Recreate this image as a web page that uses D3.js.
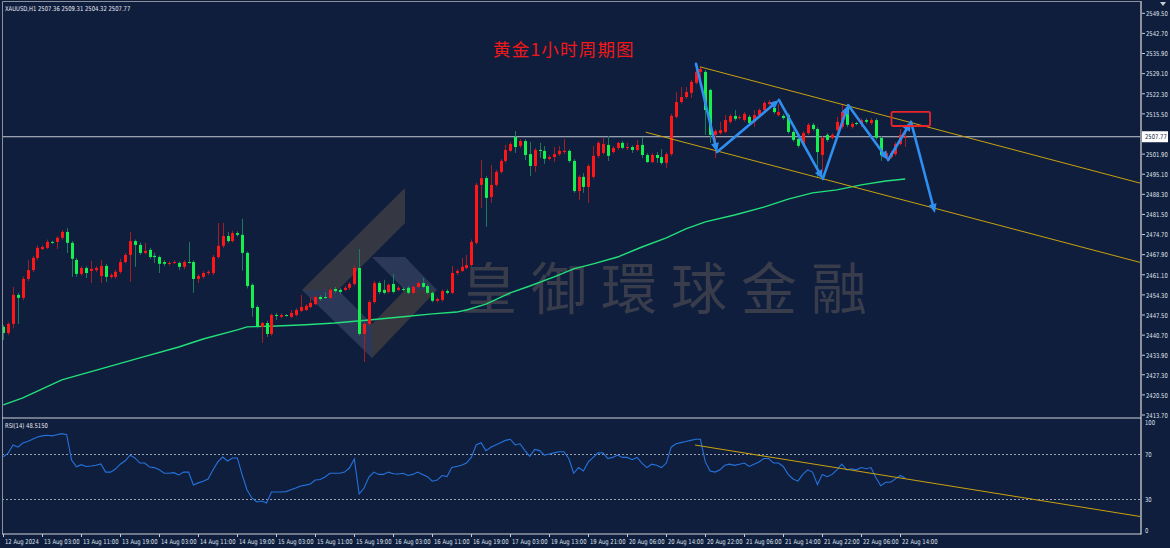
<!DOCTYPE html>
<html><head><meta charset="utf-8">
<script src="https://cdn.jsdelivr.net/npm/d3@7"></script>
<style>
html,body{margin:0;padding:0;background:#101e3e;}
svg{display:block;}
</style></head><body>
<svg id="c" width="1170" height="548"></svg>
<script>
// ---------------- DATA ----------------
const symbol = "XAUUSD,H1";
const lastOHLC = [2507.36, 2509.31, 2504.32, 2507.77];
const chartTitle = "黄金1小时周期图";
const watermarkText = "皇御環球金融";
const rsiLabel = "RSI(14) 48.5150";

const open = [2443.5,2441.4,2444.5,2454.3,2453.3,2459.7,2462.7,2466.8,2469.8,2470.2,2472.2,2472.2,2473.6,2475.6,2471.9,2466.1,2461.4,2463.4,2462.4,2462.7,
2460.7,2464.1,2460.4,2460.4,2462.1,2465.4,2467.8,2472.5,2471.2,2468.5,2469.5,2467.5,2467.1,2465.4,2464.8,2465.1,2465.1,2463.8,2465.4,2465.4,
2459.7,2460.4,2461.7,2461.7,2467.1,2470.9,2474.2,2472.5,2475.2,2474.6,2468.5,2457.7,2450.2,2443.5,2444.8,2441.1,2447.5,2446.9,2447.5,2446.9,
2447.5,2448.9,2449.2,2450.2,2451.2,2453.6,2453.6,2453.3,2456.3,2456.0,2456.0,2456.7,2458.0,2463.4,2441.1,2444.5,2451.9,2458.3,2456.0,2455.3,
2458.0,2456.0,2456.3,2456.7,2455.0,2457.0,2458.3,2457.3,2455.0,2452.3,2452.6,2455.6,2455.0,2461.7,2462.4,2463.4,2464.4,2471.9,2491.5,2493.8,
2487.4,2491.5,2495.9,2499.6,2503.0,2507.7,2504.7,2506.3,2501.9,2497.9,2503.3,2503.0,2500.3,2500.9,2501.9,2502.6,2503.0,2499.6,2489.4,2494.2,
2490.8,2494.2,2501.3,2502.3,2505.0,2502.6,2504.0,2505.7,2504.0,2504.3,2503.3,2505.0,2501.6,2499.2,2501.6,2500.9,2498.9,2501.9,2514.5,2519.5,
2521.2,2522.6,2526.0,2529.7,2529.7,2523.6,2508.4,2509.0,2509.4,2512.8,2514.8,2514.1,2513.4,2514.5,2512.8,2515.1,2516.8,2518.8,2517.5,2515.1,
2514.8,2515.1,2509.4,2507.0,2505.0,2509.0,2511.8,2510.4,2501.6,2508.4,2507.4,2510.0,2511.1,2517.5,2511.1,2512.4,2512.1,2513.4,2512.4,2513.4,
2507.4,2500.6,2500.9,2501.9,2505.3,2507.36];
const high = [2444.1,2445.0,2457.0,2455.0,2460.5,2466.1,2467.5,2471.0,2471.0,2473.0,2472.6,2474.2,2476.2,2476.9,2472.5,2466.8,2464.0,2464.0,2465.8,2464.0,
2466.1,2464.8,2461.6,2462.8,2466.5,2468.5,2475.6,2473.0,2472.0,2471.9,2470.2,2468.5,2467.6,2466.0,2465.6,2466.0,2465.6,2466.0,2472.2,2466.0,
2461.3,2462.3,2462.6,2467.8,2478.6,2478.6,2475.6,2476.0,2475.8,2480.0,2469.0,2458.2,2450.8,2445.2,2445.6,2448.0,2448.2,2448.0,2447.8,2449.2,
2449.8,2454.3,2451.2,2453.6,2454.2,2454.2,2455.3,2456.6,2457.0,2456.6,2457.3,2458.6,2464.2,2469.8,2445.0,2452.5,2459.0,2458.9,2459.4,2458.2,
2461.4,2457.3,2456.9,2457.3,2457.7,2459.0,2460.0,2457.8,2455.5,2453.5,2456.2,2456.2,2464.1,2463.0,2466.8,2467.8,2473.0,2492.2,2499.9,2494.5,
2498.2,2496.5,2500.2,2505.0,2506.0,2509.7,2507.0,2507.0,2506.0,2504.0,2505.7,2504.6,2501.5,2504.3,2504.6,2507.0,2503.5,2500.2,2494.8,2495.5,
2498.5,2504.6,2506.3,2507.4,2508.0,2504.6,2506.0,2506.3,2505.7,2504.8,2506.7,2507.7,2502.2,2502.2,2502.6,2503.6,2502.5,2515.5,2522.9,2524.6,
2524.6,2527.0,2532.4,2531.4,2530.3,2524.0,2510.3,2512.8,2515.1,2515.4,2516.8,2515.0,2516.1,2515.1,2516.8,2517.4,2519.8,2520.2,2518.0,2518.8,
2515.4,2515.7,2510.0,2507.6,2509.6,2512.4,2512.4,2511.0,2508.0,2509.0,2509.0,2514.5,2518.5,2518.5,2512.8,2512.8,2514.0,2514.0,2514.1,2514.0,
2508.0,2503.0,2503.0,2506.0,2510.4,2509.31];
const low = [2439.1,2440.7,2443.0,2444.5,2452.5,2459.0,2462.0,2466.0,2469.5,2469.8,2471.6,2469.8,2473.0,2468.5,2460.4,2460.4,2460.8,2460.0,2458.3,2462.0,
2458.3,2458.7,2459.8,2459.8,2461.5,2465.0,2458.7,2463.8,2467.8,2468.0,2466.5,2465.1,2461.7,2464.0,2464.3,2464.8,2462.7,2463.0,2465.0,2455.0,
2458.3,2459.8,2461.0,2461.0,2466.5,2470.2,2471.9,2472.0,2474.0,2462.5,2456.5,2446.9,2443.0,2438.1,2440.1,2440.5,2445.8,2446.4,2447.0,2446.5,
2447.0,2448.5,2448.8,2449.8,2450.8,2452.3,2452.9,2452.9,2455.0,2454.6,2455.6,2456.0,2457.5,2440.5,2431.6,2444.0,2451.3,2454.6,2454.5,2454.8,
2454.8,2455.5,2455.5,2454.5,2454.5,2456.5,2456.5,2454.5,2451.8,2451.8,2452.0,2454.5,2454.5,2461.0,2462.0,2463.0,2463.8,2471.3,2483.7,2477.3,
2485.4,2491.0,2495.3,2499.0,2502.5,2502.3,2504.0,2499.9,2494.5,2495.9,2500.6,2498.6,2499.8,2499.2,2501.3,2502.0,2499.0,2488.8,2486.4,2488.8,
2485.4,2493.6,2500.6,2501.8,2499.6,2502.0,2503.3,2503.5,2503.3,2502.3,2502.8,2500.6,2498.9,2498.9,2498.9,2498.3,2497.2,2501.3,2514.0,2519.0,
2520.6,2520.9,2525.5,2525.3,2508.4,2505.7,2500.6,2508.5,2509.0,2512.2,2513.2,2513.6,2512.8,2511.8,2511.1,2514.6,2516.2,2518.3,2515.5,2514.6,
2513.5,2508.8,2506.1,2504.1,2504.4,2508.4,2509.8,2493.8,2495.9,2506.0,2506.9,2509.5,2510.5,2511.0,2510.5,2511.6,2511.1,2512.2,2511.8,2506.8,
2499.6,2500.0,2500.3,2501.3,2504.8,2504.32];
const close = [2441.4,2444.5,2454.3,2453.3,2459.7,2462.7,2466.8,2470.2,2470.5,2472.2,2472.0,2473.6,2475.6,2471.9,2466.5,2461.4,2463.4,2461.7,2463.1,2463.4,
2464.1,2460.4,2461.0,2462.1,2465.4,2467.8,2472.5,2471.2,2468.5,2469.2,2467.1,2467.1,2464.8,2464.8,2465.1,2465.4,2463.8,2465.4,2465.1,2459.7,
2460.7,2461.7,2462.1,2467.1,2470.9,2474.2,2472.5,2475.2,2474.6,2468.5,2457.3,2449.9,2443.5,2444.8,2441.1,2447.5,2447.2,2447.5,2447.3,2448.2,
2449.2,2450.2,2450.6,2451.6,2453.6,2452.9,2453.3,2456.0,2455.6,2455.3,2456.7,2458.0,2463.4,2441.1,2444.5,2451.9,2458.3,2455.3,2455.0,2457.7,
2455.3,2456.7,2456.0,2455.0,2457.0,2458.3,2457.0,2455.0,2452.3,2452.9,2455.6,2455.0,2461.7,2462.4,2463.8,2464.4,2472.2,2491.5,2493.8,2487.1,
2491.5,2495.9,2499.6,2503.3,2505.3,2504.3,2506.3,2501.6,2497.9,2503.3,2503.0,2500.3,2500.9,2501.9,2503.0,2503.0,2499.6,2489.4,2494.2,2490.8,
2497.9,2501.3,2505.7,2505.3,2501.3,2504.0,2505.7,2504.0,2504.3,2503.3,2505.0,2501.6,2499.2,2501.6,2500.6,2498.9,2501.9,2514.8,2519.5,2521.2,
2522.9,2526.3,2529.7,2530.7,2516.8,2508.4,2509.7,2510.0,2513.4,2514.8,2513.8,2514.4,2515.5,2512.4,2515.1,2516.8,2519.2,2519.5,2516.1,2516.1,
2514.1,2509.4,2506.7,2504.7,2509.0,2511.8,2510.4,2502.6,2507.4,2506.7,2508.4,2512.8,2516.1,2511.8,2512.1,2512.1,2513.4,2512.8,2513.4,2507.4,
2501.6,2502.3,2502.3,2505.3,2508.4,2507.77];

// moving average, read at sampled bars
const maBar = [0,4,8,12,20,28,36,41,48,50,56,62,68,75,82,88,93,95,99,104,108,113,117,121,126,131,136,140,144,150,156,161,166,171,176,181,185];
const maVal = [2417.1,2419.5,2422.5,2425.6,2429.3,2433.0,2436.7,2439.4,2442.5,2443.5,2443.8,2444.2,2444.8,2445.8,2446.9,2447.9,2448.5,2449.2,2451.2,2455.0,2457.3,2460.4,2463.1,2464.8,2467.1,2470.5,2473.6,2476.6,2479.0,2481.3,2484.0,2486.7,2488.8,2489.8,2491.5,2492.8,2493.5];

// RSI(14), one value per bar
const rsi = [67.6,70.8,78,76,79.7,81,83,85,86,86.5,86,87,88,87,64.7,58.7,60.6,59,59.4,60,
61.2,54,54,56.7,61,64,69,66.5,62,62,58.5,58,56,53,53,53.5,51.5,54,54,42.6,
44.5,46,47.9,55.9,63,67.3,63.8,66.5,66.5,51.5,38.2,31.2,27.6,28.5,26.7,36.4,36.4,36.5,36.8,38.5,
40,41.8,42.5,43.5,47,47.5,49.7,53,53,53,54,57.6,65.6,34.7,40,49.7,54,52,52,54,
52.5,52.4,53,51,52,54,52,50,46,47,51,50,58,59,60,62,67,78,80,73,
76,78,80,82,83,78,79,73,68,74,73,69,70,71,72,72,66,53,58,55,
63,67,71,71,66,67,69,67,67,65,67,62,58,61,60,58,62,76,79,80,
81,82,83,83,63,55,54,56,60,61,60,61,62,59,61,63,66,66,62,62,
59,52,48,46,52,56,54,43,52,50,52,56,61,56,57,56,58,57,58,49,
42,45,45,48,51,48.5];

const priceTickLabels = ["2549.50","2542.70","2535.90","2529.10","2522.30","2515.50","2508.70","2501.90","2495.10","2488.30","2481.50","2474.70","2467.90","2461.10","2454.30","2447.50","2440.70","2433.90","2427.30","2420.50","2413.70"];
const rsiTickLabels = ["100","70","30","0"];
const timeTickLabels = ["12 Aug 2024","13 Aug 03:00","13 Aug 11:00","13 Aug 19:00","14 Aug 03:00","14 Aug 11:00","14 Aug 19:00","15 Aug 03:00","15 Aug 11:00","15 Aug 19:00","16 Aug 03:00","16 Aug 11:00","16 Aug 19:00","17 Aug 03:00","19 Aug 13:00","19 Aug 21:00","20 Aug 06:00","20 Aug 14:00","20 Aug 22:00","21 Aug 06:00","21 Aug 14:00","21 Aug 22:00","22 Aug 06:00","22 Aug 14:00"];
const timeTickEvery = 8;

// drawings (bar index, price)
const upperChannel = [[142.9,2531.4],[233.4,2492.0]];
const lowerChannel = [[131.8,2509.3],[233.4,2465.2]];
const zigzag = [[142.1,2532.4],[146.4,2502.6],[159.1,2520.2],[168.1,2493.5],[173.3,2518.5],[181.5,2499.9],[186.2,2512.8],[191.1,2482.0]];
const targetBox = [[182.2,2516.2],[190.1,2511.4]];
const rsiTrend = [[141.9,77.9],[233.4,14.7]];

// ---------------- LAYOUT ----------------
const svg = d3.select("#c");
const BG = "#101e3e";
const plotL = 2, plotR = 1141, mainT = 2, mainB = 418, rsiB = 534;
const step = 4.875, x0 = 3.3;
const x = d3.scaleLinear().domain([0, 232]).range([x0, x0 + 232 * step]);
const y = d3.scaleLinear().domain([2413.7, 2549.5]).range([415, 13.3]);
const yr = d3.scaleLinear().domain([0, 100]).range([533.3, 420]);

svg.append("rect").attr("width", 1170).attr("height", 548).attr("fill", BG);

const defs = svg.append("defs");
defs.append("clipPath").attr("id", "cm").append("rect")
  .attr("x", plotL).attr("y", mainT).attr("width", plotR - plotL).attr("height", mainB - mainT);
defs.append("clipPath").attr("id", "cr").append("rect")
  .attr("x", plotL).attr("y", 419).attr("width", plotR - plotL).attr("height", rsiB - 419);
defs.append("clipPath").attr("id", "cl").append("rect")
  .attr("x", plotR + 1).attr("y", 0).attr("width", 40).attr("height", 131.5);

function small(g, px, py, str, fill, anchor) {
  return g.append("text")
    .attr("transform", `translate(${px},${py}) scale(0.8,1)`)
    .attr("font-family", "'DejaVu Sans','Liberation Sans',sans-serif")
    .attr("font-size", 6.6).attr("fill", fill || "#dfe3ea")
    .attr("text-anchor", anchor || "start")
    .attr("dominant-baseline", "central")
    .text(str);
}

const main = svg.append("g").attr("clip-path", "url(#cm)");

// watermark logo
const wm = main.append("g");
wm.append("path").attr("d", "M302,290 L405,188 L405,223 L338,290 Z").attr("fill", "#3a3b42").attr("opacity", 0.9);
wm.append("path").attr("d", "M372,257 L405,257 L437,290 L405,290 Z").attr("fill", "#2c3858");
wm.append("path").attr("d", "M302,290 L338,290 L372,324 L372,358 Z").attr("fill", "#2c3858");
wm.append("path").attr("d", "M372,324 L405,290 L437,290 L372,358 Z").attr("fill", "#36373f");
wm.append("text").attr("x", 461).attr("y", 309)
  .attr("font-family", "'Noto Sans CJK TC','Noto Sans CJK SC',sans-serif")
  .attr("font-size", 56).attr("letter-spacing", 14)
  .attr("fill", "#393d4b").text(watermarkText);

// current price line
main.append("line").attr("x1", plotL).attr("x2", plotR)
  .attr("y1", y(lastOHLC[3])).attr("y2", y(lastOHLC[3]))
  .attr("stroke", "#c5c9d2").attr("stroke-width", 1);

// moving average
main.append("path")
  .attr("d", d3.line().x((d, i) => x(maBar[i])).y(d => y(d))(maVal))
  .attr("fill", "none").attr("stroke", "#22e07a").attr("stroke-width", 1.4);

// candles
const UP_BODY = "#ff1616", UP_WICK = "#a51c24", DN_BODY = "#14f04e", DN_WICK = "#1f7a5c";
const cg = main.append("g");
open.forEach((o, i) => {
  const c = close[i], up = c >= o;
  const cx = Math.round(x(i)) + 0.5;
  cg.append("line").attr("x1", cx).attr("x2", cx)
    .attr("y1", y(high[i])).attr("y2", y(low[i]))
    .attr("stroke", up ? UP_WICK : DN_WICK).attr("stroke-width", 1);
  const top = y(Math.max(o, c)), bot = y(Math.min(o, c));
  cg.append("rect").attr("x", cx - 1.5).attr("width", 3)
    .attr("y", top).attr("height", Math.max(1, bot - top))
    .attr("fill", up ? UP_BODY : DN_BODY);
});

// channel lines
[upperChannel, lowerChannel].forEach(l => {
  main.append("line")
    .attr("x1", x(l[0][0])).attr("y1", y(l[0][1]))
    .attr("x2", x(l[1][0])).attr("y2", y(l[1][1]))
    .attr("stroke", "#c9a20c").attr("stroke-width", 1);
});

// zigzag arrows
const AR = "#2e8ff0";
const ag = main.append("g");
for (let i = 0; i < zigzag.length - 1; i++) {
  const ax = x(zigzag[i][0]), ay = y(zigzag[i][1]);
  const bx = x(zigzag[i + 1][0]), by = y(zigzag[i + 1][1]);
  const dx = bx - ax, dy = by - ay, len = Math.hypot(dx, dy);
  const ux = dx / len, uy = dy / len;
  const hl = 9, hw = 4;
  ag.append("line").attr("x1", ax).attr("y1", ay)
    .attr("x2", bx - ux * hl * 0.8).attr("y2", by - uy * hl * 0.8)
    .attr("stroke", AR).attr("stroke-width", 2.6).attr("stroke-linecap", "round");
  const px = -uy, py = ux;
  ag.append("path").attr("d",
    `M${bx},${by} L${bx - ux * hl + px * hw},${by - uy * hl + py * hw} L${bx - ux * hl - px * hw},${by - uy * hl - py * hw} Z`)
    .attr("fill", AR);
}

// target box
main.append("rect")
  .attr("x", x(targetBox[0][0])).attr("y", y(targetBox[0][1]))
  .attr("width", x(targetBox[1][0]) - x(targetBox[0][0]))
  .attr("height", y(targetBox[1][1]) - y(targetBox[0][1]))
  .attr("rx", 1.5).attr("fill", "none").attr("stroke", "#e8262a").attr("stroke-width", 1.8);

// title
svg.append("text").attr("x", 493).attr("y", 56)
  .attr("font-family", "'Noto Sans CJK SC',sans-serif")
  .attr("font-size", 17.5).attr("letter-spacing", 1.2)
  .attr("fill", "#f01818").text(chartTitle);

// header
small(svg, 5, 8, `${symbol}  ${lastOHLC.map(v => v.toFixed(2)).join(" ")}`, "#e6e9ef");

// ---------- RSI panel ----------
const rg = svg.append("g").attr("clip-path", "url(#cr)");
[70, 30].forEach(v => {
  rg.append("line").attr("x1", plotL).attr("x2", plotR)
    .attr("y1", Math.round(yr(v)) + 0.5).attr("y2", Math.round(yr(v)) + 0.5)
    .attr("stroke", "#9aa1b2").attr("stroke-width", 1).attr("stroke-dasharray", "2,2");
});
rg.append("path")
  .attr("d", d3.line().x((d, i) => x(i)).y(d => yr(d))(rsi))
  .attr("fill", "none").attr("stroke", "#2473db").attr("stroke-width", 1.1);
rg.append("line")
  .attr("x1", x(rsiTrend[0][0])).attr("y1", yr(rsiTrend[0][1]))
  .attr("x2", x(rsiTrend[1][0])).attr("y2", yr(rsiTrend[1][1]))
  .attr("stroke", "#c9a20c").attr("stroke-width", 1);
small(svg, 5, 425, rsiLabel, "#e6e9ef");

// ---------- frame ----------
const fr = svg.append("g").attr("fill", "none");
fr.append("path").attr("d", `M${plotL + 0.5},${rsiB} L${plotL + 0.5},1.5 L${plotR},1.5`).attr("stroke", "#8c919c").attr("stroke-width", 1);
fr.append("line").attr("x1", plotR).attr("x2", plotR).attr("y1", 1).attr("y2", rsiB + 0.5).attr("stroke", "#8c919c").attr("stroke-width", 2);
fr.append("line").attr("x1", plotL).attr("x2", plotR).attr("y1", mainB).attr("y2", mainB).attr("stroke", "#cdd1d8").attr("stroke-width", 1.2);
fr.append("line").attr("x1", plotL).attr("x2", plotR).attr("y1", rsiB).attr("y2", rsiB).attr("stroke", "#cdd1d8").attr("stroke-width", 1.2);

// price axis
const ax = svg.append("g");
const lp = y(lastOHLC[3]);
priceTickLabels.forEach(s => {
  const py = y(+s);
  ax.append("line").attr("x1", plotR + 1).attr("x2", plotR + 4).attr("y1", py).attr("y2", py).attr("stroke", "#c8ccd4");
  // the label hidden behind the last-price box only shows its upper edge
  const t = small(ax, plotR + 5, py, s);
  if (Math.abs(py - lp) < 8) t.attr("clip-path", "url(#cl)").attr("font-size", 5.5);
});
// last price box
ax.append("rect").attr("x", plotR + 1).attr("y", lp - 5.5).attr("width", 26).attr("height", 11).attr("fill", "#ffffff");
small(ax, plotR + 4, lp, lastOHLC[3].toFixed(2), "#101e3e");
// RSI axis
rsiTickLabels.forEach(s => {
  const v = +s;
  const py = v === 100 ? 422.5 : (v === 0 ? 530 : yr(v));
  small(ax, plotR + 4, py, s);
});
// small scroll marker
ax.append("path").attr("d", "M1160,2 L1166,2 L1163,6 Z").attr("fill", "#c8ccd4");

// time axis
timeTickLabels.forEach((s, i) => {
  const tx = Math.round(x(i * timeTickEvery)) + 0.5;
  ax.append("line").attr("x1", tx).attr("x2", tx).attr("y1", rsiB).attr("y2", rsiB + 3).attr("stroke", "#c8ccd4");
  small(ax, tx + 1.5, 541, s);
});
</script>
</body></html>
